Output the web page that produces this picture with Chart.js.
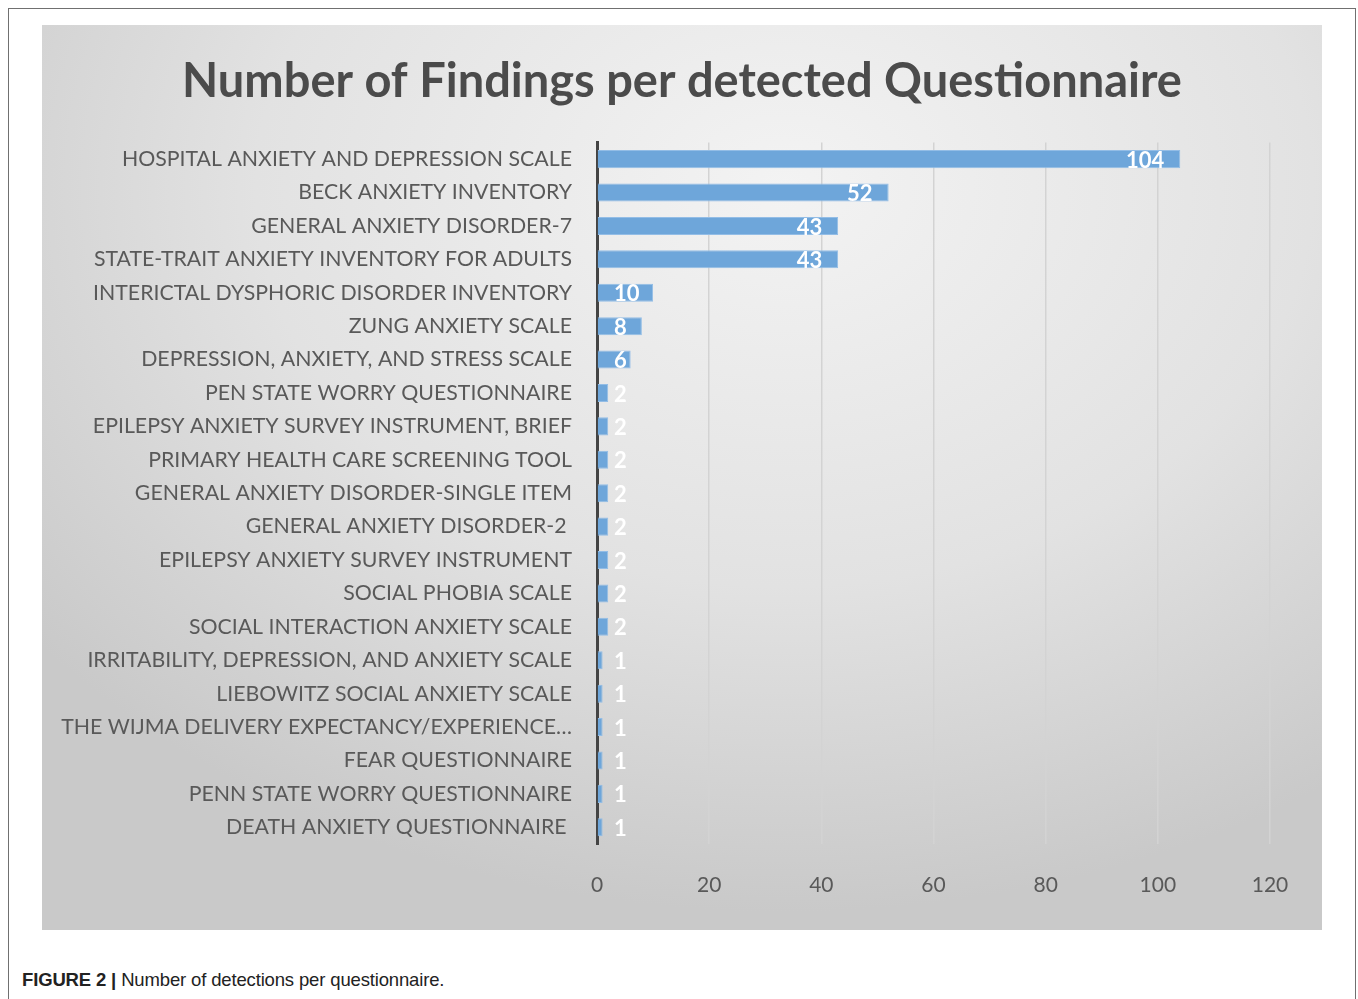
<!DOCTYPE html>
<html>
<head>
<meta charset="utf-8">
<script src="https://cdn.jsdelivr.net/npm/chart.js@4"></script>
<style>
  body { margin: 0; background: #fff; font-family: "Liberation Sans", Arial, sans-serif; }
  #frame { position: absolute; left: 8px; top: 8px; width: 1346px; height: 1010px;
           border: 1px solid #707070; border-bottom: none; }
  #panel { position: absolute; left: 42px; top: 25px; width: 1280px; height: 905px;
           background: radial-gradient(ellipse 75% 80% at 58% 18%, #f3f3f3 0%, #e2e2e2 55%, #c9c9c9 100%); }
  #caption { position: absolute; left: 22px; top: 969px; font-size: 18.5px; color: #222;
             letter-spacing: -0.15px; }
</style>
</head>
<body>
<div id="frame"></div>
<div id="panel"><canvas id="findingsChart" width="1280" height="905"></canvas></div>
<div id="caption"><b>FIGURE 2 |</b> Number of detections per questionnaire.</div>
<script>
// Questionnaires and their number of findings
const questionnaires = [
  "HOSPITAL ANXIETY AND DEPRESSION SCALE",
  "BECK ANXIETY INVENTORY",
  "GENERAL ANXIETY DISORDER-7",
  "STATE-TRAIT ANXIETY INVENTORY FOR ADULTS",
  "INTERICTAL DYSPHORIC DISORDER INVENTORY",
  "ZUNG ANXIETY SCALE",
  "DEPRESSION, ANXIETY, AND STRESS SCALE",
  "PEN STATE WORRY QUESTIONNAIRE",
  "EPILEPSY ANXIETY SURVEY INSTRUMENT, BRIEF",
  "PRIMARY HEALTH CARE SCREENING TOOL",
  "GENERAL ANXIETY DISORDER-SINGLE ITEM",
  "GENERAL ANXIETY DISORDER-2 ",
  "EPILEPSY ANXIETY SURVEY INSTRUMENT",
  "SOCIAL PHOBIA SCALE",
  "SOCIAL INTERACTION ANXIETY SCALE",
  "IRRITABILITY, DEPRESSION, AND ANXIETY SCALE",
  "LIEBOWITZ SOCIAL ANXIETY SCALE",
  "THE WIJMA DELIVERY EXPECTANCY/EXPERIENCE…",
  "FEAR QUESTIONNAIRE",
  "PENN STATE WORRY QUESTIONNAIRE",
  "DEATH ANXIETY QUESTIONNAIRE "
];
const findings = [104, 52, 43, 43, 10, 8, 6, 2, 2, 2, 2, 2, 2, 2, 2, 1, 1, 1, 1, 1, 1];
const xTicks = [0, 20, 40, 60, 80, 100, 120];

const labelFont = "Lato, 'Open Sans', sans-serif";

// white value labels at the end of each bar
const valueLabels = {
  id: 'valueLabels',
  afterDatasetsDraw(chart) {
    const ctx = chart.ctx;
    const meta = chart.getDatasetMeta(0);
    const left = chart.chartArea.left;
    ctx.save();
    ctx.font = "bold 22px " + labelFont;
    ctx.fillStyle = '#ffffff';
    ctx.textBaseline = 'middle';
    ctx.textAlign = 'left';
    meta.data.forEach((bar, i) => {
      const txt = String(findings[i]);
      const w = ctx.measureText(txt).width;
      const x = Math.max(bar.x - 16 - w, left + 17);
      ctx.fillText(txt, x, bar.y + 1.5);
    });
    ctx.restore();
  }
};

new Chart(document.getElementById('findingsChart'), {
  type: 'bar',
  data: {
    labels: questionnaires,
    datasets: [{
      data: findings,
      backgroundColor: '#6ea6da',
      borderColor: '#93bde6',
      borderWidth: 1,
      categoryPercentage: 1,
      barPercentage: 0.54
    }]
  },
  plugins: [valueLabels],
  options: {
    indexAxis: 'y',
    responsive: false,
    animation: false,
    plugins: {
      legend: { display: false },
      tooltip: { enabled: false },
      title: {
        display: true,
        text: 'Number of Findings per detected Questionnaire',
        color: '#4b4b4b',
        font: { family: labelFont, size: 47, weight: 'bold' },
        padding: { top: 29, bottom: 32 }
      }
    },
    scales: {
      x: {
        min: 0,
        max: 120,
        afterBuildTicks(scale) { scale.ticks = xTicks.map(v => ({ value: v })); },
        afterFit(scale) { scale.height = 86; },
        grid: {
          color: ctx => ctx.tick && ctx.tick.value === 0 ? 'rgba(0,0,0,0)' : '#d3d3d3',
          lineWidth: 1.5,
          drawTicks: false
        },
        border: { display: false },
        ticks: {
          padding: 29,
          color: '#595959',
          font: { family: labelFont, size: 21 }
        }
      },
      y: {
        afterFit(scale) { scale.width = 555; },
        grid: { display: false, drawTicks: false },
        border: { display: true, color: '#444444', width: 3 },
        ticks: {
          padding: 25,
          color: '#595959',
          autoSkip: false,
          font: { family: labelFont, size: 21.3 }
        }
      },
      // empty right-hand margin so the title stays centred on the whole panel
      yRight: {
        type: 'category',
        position: 'right',
        afterFit(scale) { scale.width = 52; },
        grid: { display: false, drawTicks: false },
        border: { display: false },
        ticks: { display: false }
      }
    }
  }
});
</script>
</body>
</html>
